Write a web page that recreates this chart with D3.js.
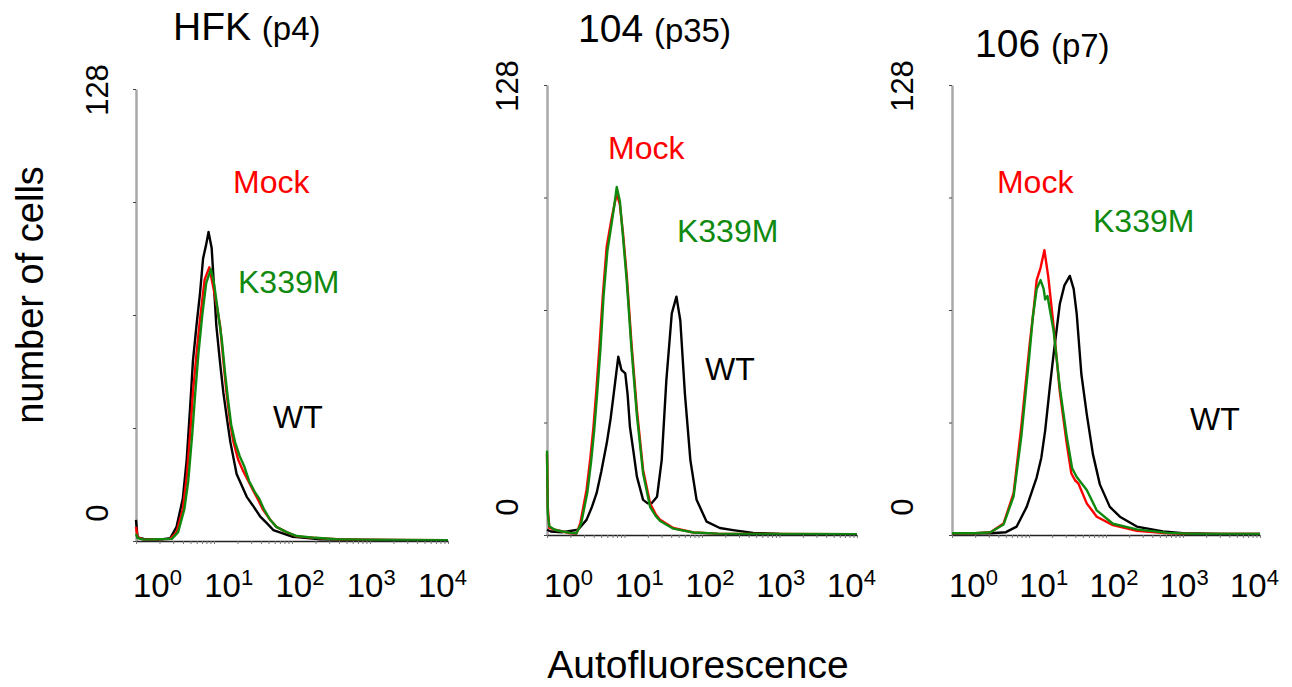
<!DOCTYPE html>
<html>
<head>
<meta charset="utf-8">
<script src="https://cdn.jsdelivr.net/npm/d3@7"></script>
<style>
  body { margin: 0; background: #fff; }
  svg { display: block; font-family: "Liberation Sans", Arial, sans-serif; }
</style>
</head>
<body>
<svg id="chart" width="1292" height="687"></svg>
<script>
// x values are log10(fluorescence), y values are cell counts
const decades = [0, 1, 2, 3, 4];
const countTicks = [0, 32, 64, 96, 128];
const panelNames = ["HFK", "104", "106"];
const passages = ["(p4)", "(p35)", "(p7)"];
const seriesNames = ["WT", "Mock", "K339M"];

const hfkWT = [[0, 6], [0.02, 1], [0.1, 0.6], [0.3, 0.4], [0.44, 0.8], [0.52, 4], [0.6, 12], [0.65, 23], [0.7, 40], [0.73, 51],
  [0.78, 62], [0.82, 70], [0.86, 80], [0.9, 84], [0.93, 87.5], [0.97, 83], [1.0, 72], [1.03, 61], [1.08, 50], [1.12, 42],
  [1.17, 34], [1.21, 28], [1.29, 19], [1.35, 16], [1.42, 12.5], [1.5, 10], [1.59, 7], [1.68, 5], [1.76, 3.1], [1.9, 2],
  [2.01, 1.2], [2.2, 0.8], [2.36, 0.5], [2.6, 0.4], [3.0, 0.3], [3.5, 0.2], [4.0, 0.2]];
const hfkMock = [[0, 4], [0.02, 1], [0.1, 0.4], [0.3, 0.5], [0.44, 0.6], [0.52, 2.5], [0.6, 9], [0.65, 18], [0.7, 32], [0.73, 42],
  [0.78, 54], [0.82, 62.6], [0.88, 74], [0.94, 77.5], [0.99, 72], [1.04, 66], [1.08, 60.7], [1.12, 51], [1.16, 42], [1.21, 33],
  [1.25, 28], [1.31, 23], [1.37, 20], [1.44, 17], [1.5, 14.4], [1.57, 11.5], [1.63, 8.8], [1.72, 6], [1.8, 4], [1.93, 2.5],
  [2.06, 1.3], [2.3, 0.9], [2.57, 0.5], [2.9, 0.4], [3.3, 0.3], [4.0, 0.2]];
const hfkK339M = [[0, 2], [0.02, 0.8], [0.1, 0.4], [0.3, 0.5], [0.46, 0.6], [0.54, 2.5], [0.62, 9], [0.67, 17], [0.72, 30], [0.76, 42],
  [0.8, 53], [0.85, 64], [0.9, 73], [0.96, 77], [1.0, 73], [1.05, 65], [1.1, 57], [1.14, 48], [1.18, 40], [1.22, 33],
  [1.27, 28], [1.33, 24], [1.39, 21], [1.45, 17], [1.52, 14], [1.58, 12], [1.64, 9], [1.72, 6], [1.8, 4], [1.93, 2.5],
  [2.06, 1.4], [2.3, 0.9], [2.57, 0.5], [2.9, 0.4], [3.3, 0.3], [4.0, 0.2]];

const p104WT = [[0, 1.5], [0.05, 1], [0.2, 0.8], [0.4, 1.5], [0.51, 4.3], [0.58, 8], [0.64, 11.9], [0.7, 18], [0.77, 26], [0.82, 33],
  [0.86, 40], [0.92, 50.7], [0.96, 47], [1.01, 46], [1.04, 40], [1.07, 30.8], [1.12, 23], [1.16, 16.6], [1.24, 10], [1.3, 9],
  [1.35, 9], [1.42, 10.9], [1.48, 21.3], [1.54, 44], [1.61, 63], [1.67, 67.8], [1.72, 61], [1.78, 40], [1.85, 21.3], [1.93, 10],
  [2.06, 3.8], [2.23, 2], [2.4, 1.4], [2.66, 0.6], [3.0, 0.3], [3.5, 0.2], [4.0, 0.2]];
const p104Mock = [[0, 23], [0.01, 8], [0.03, 2], [0.1, 1.5], [0.2, 1], [0.3, 0.5], [0.38, 0.4], [0.43, 3.4], [0.51, 12.8], [0.56, 22],
  [0.6, 30.8], [0.64, 42], [0.68, 54.5], [0.72, 68], [0.77, 82], [0.83, 89.6], [0.87, 94], [0.9, 97], [0.94, 94], [0.98, 86],
  [1.03, 73.5], [1.09, 54.5], [1.16, 35.5], [1.24, 18.5], [1.33, 9], [1.4, 6], [1.46, 4.3], [1.63, 2], [1.89, 0.7], [2.2, 0.4],
  [2.6, 0.3], [3.0, 0.3], [4.0, 0.2]];
const p104K339M = [[0, 24], [0.01, 6], [0.03, 2.5], [0.1, 1.5], [0.2, 1], [0.3, 0.6], [0.38, 0.5], [0.44, 3.2], [0.52, 12], [0.57, 21],
  [0.61, 30], [0.65, 41], [0.69, 53], [0.73, 68], [0.78, 81], [0.83, 88], [0.87, 94], [0.9, 99], [0.94, 95], [0.98, 85],
  [1.03, 72], [1.09, 53], [1.16, 34], [1.24, 17.5], [1.33, 8], [1.4, 5.5], [1.46, 4], [1.63, 1.8], [1.89, 0.7], [2.2, 0.4],
  [2.6, 0.3], [3.0, 0.3], [4.0, 0.2]];

const p106WT = [[0, 0.5], [0.5, 0.5], [0.7, 0.8], [0.84, 2.4], [0.97, 8], [1.1, 16.4], [1.16, 22], [1.21, 29.7], [1.27, 42], [1.32, 51.5],
  [1.4, 65.7], [1.46, 71], [1.53, 73.7], [1.58, 70], [1.62, 62.8], [1.68, 45.8], [1.75, 34.4], [1.83, 23], [1.92, 14.4], [2.05, 8],
  [2.18, 5.2], [2.4, 2.4], [2.74, 1], [3.0, 0.5], [3.5, 0.3], [4.0, 0.3]];
const p106Mock = [[0, 0.5], [0.3, 0.5], [0.5, 0.8], [0.67, 3.3], [0.8, 11.9], [0.9, 30.8], [1.01, 54.5], [1.06, 64], [1.1, 72.5], [1.15, 76],
  [1.2, 81], [1.25, 73.5], [1.32, 59.3], [1.4, 40.8], [1.49, 26], [1.55, 17.5], [1.6, 15.5], [1.64, 14.7], [1.75, 9], [1.88, 5.2],
  [2.09, 2.8], [2.4, 1.2], [2.8, 0.5], [3.2, 0.3], [4.0, 0.3]];
const p106K339M = [[0, 0.5], [0.3, 0.5], [0.5, 0.8], [0.67, 3], [0.8, 11], [0.9, 28], [1.0, 50], [1.05, 62], [1.1, 70], [1.15, 72.5],
  [1.19, 70], [1.21, 67], [1.24, 68], [1.32, 58], [1.4, 42], [1.49, 28], [1.56, 19], [1.62, 16.5], [1.75, 12.8], [1.88, 7],
  [2.09, 3.2], [2.4, 1.6], [2.8, 0.6], [3.2, 0.3], [4.0, 0.3]];

// where each series name is written, in data units [log10 fl, count]
const hfkLabelAt = [[1.756, 32], [1.244, 98.6], [1.308, 70.2]];
const p104LabelAt = [[2.039, 44.1], [0.787, 106.9], [1.677, 83.3]];
const p106LabelAt = [[3.091, 29.9], [0.584, 97.3], [1.831, 86.2]];

const colors = { WT: "#000000", Mock: "#ff0000", K339M: "#0f8a0f" };

const panels = [
  { x0: 136, x1: 448, top: 89, bottom: 541, tx: 173, ty: 40, gap: 28,
    series: [hfkWT, hfkMock, hfkK339M], labelAt: hfkLabelAt },
  { x0: 547, x1: 857, top: 85, bottom: 535, tx: 578, ty: 42, gap: 29,
    series: [p104WT, p104Mock, p104K339M], labelAt: p104LabelAt },
  { x0: 952, x1: 1260, top: 85, bottom: 535, tx: 975, ty: 57, gap: 39,
    series: [p106WT, p106Mock, p106K339M], labelAt: p106LabelAt }
];

const svg = d3.select("#chart");

// minor log ticks 1..9 per decade
const minorTicks = [];
for (let d = 0; d < 4; d++) {
  for (let m = 1; m < 10; m++) minorTicks.push(m * 10 ** d);
}
minorTicks.push(1e4);

panels.forEach((p, i) => {
  const g = svg.append("g");
  const x = d3.scaleLog().domain([1, 1e4]).range([p.x0, p.x1]);
  const y = d3.scaleLinear().domain([0, 128]).range([p.bottom, p.top]);
  // tick labels are spaced a bit tighter than the decades
  const xl = d3.scaleLinear().domain([0, 4]).range([p.x0 - 3, p.x1 - 30]);

  // title
  const t = g.append("text").attr("x", p.tx).attr("y", p.ty).attr("fill", "#000");
  t.append("tspan").attr("font-size", 39).text(panelNames[i] + " ");
  t.append("tspan").attr("font-size", 33).text(passages[i]);

  // y axis
  const ya = g.append("g")
    .attr("transform", `translate(${p.x0},0)`)
    .call(d3.axisLeft(y).tickValues(countTicks).tickSize(3).tickSizeOuter(0).tickFormat(""));
  ya.select(".domain").attr("stroke", "#a8a8a8").attr("stroke-width", 2.5);
  ya.selectAll(".tick line").attr("stroke", "#444").attr("stroke-width", 1);

  g.append("text")
    .attr("transform", `translate(${p.x0 - p.gap},${y(128) + 1}) rotate(-90)`)
    .attr("text-anchor", "middle").attr("font-size", 31).text("128");
  g.append("text")
    .attr("transform", `translate(${p.x0 - p.gap},${y(0) - 28}) rotate(-90)`)
    .attr("text-anchor", "middle").attr("font-size", 31).text("0");

  // curves: WT under, Mock, then K339M on top
  const line = d3.line()
    .x(d => x(10 ** d[0]))
    .y(d => y(d[1]));
  p.series.forEach((s, k) => {
    g.append("path")
      .datum(s)
      .attr("fill", "none")
      .attr("stroke", colors[seriesNames[k]])
      .attr("stroke-width", 2.4)
      .attr("stroke-linejoin", "round")
      .attr("d", line);
  });

  // x axis
  const xa = g.append("g")
    .attr("transform", `translate(0,${p.bottom})`)
    .call(d3.axisBottom(x).tickValues(minorTicks).tickSize(3).tickSizeOuter(0).tickFormat(""));
  xa.select(".domain").attr("stroke", "#222").attr("stroke-width", 1.5);
  xa.selectAll(".tick line").attr("stroke", "#777").attr("stroke-width", 1);

  decades.forEach(e => {
    const lt = g.append("text").attr("x", xl(e)).attr("y", 597).attr("fill", "#000");
    lt.append("tspan").attr("font-size", 33).text("10");
    lt.append("tspan").attr("font-size", 22).attr("dy", -12).text(e);
  });

  // series names
  seriesNames.forEach((name, k) => {
    g.append("text")
      .attr("x", x(10 ** p.labelAt[k][0]))
      .attr("y", y(p.labelAt[k][1]))
      .attr("font-size", 32)
      .attr("fill", colors[name])
      .text(name);
  });
});

svg.append("text")
  .attr("transform", "translate(43,295) rotate(-90)")
  .attr("text-anchor", "middle").attr("font-size", 38).text("number of cells");

svg.append("text")
  .attr("x", 698).attr("y", 678)
  .attr("text-anchor", "middle").attr("font-size", 39).text("Autofluorescence");
</script>
</body>
</html>
